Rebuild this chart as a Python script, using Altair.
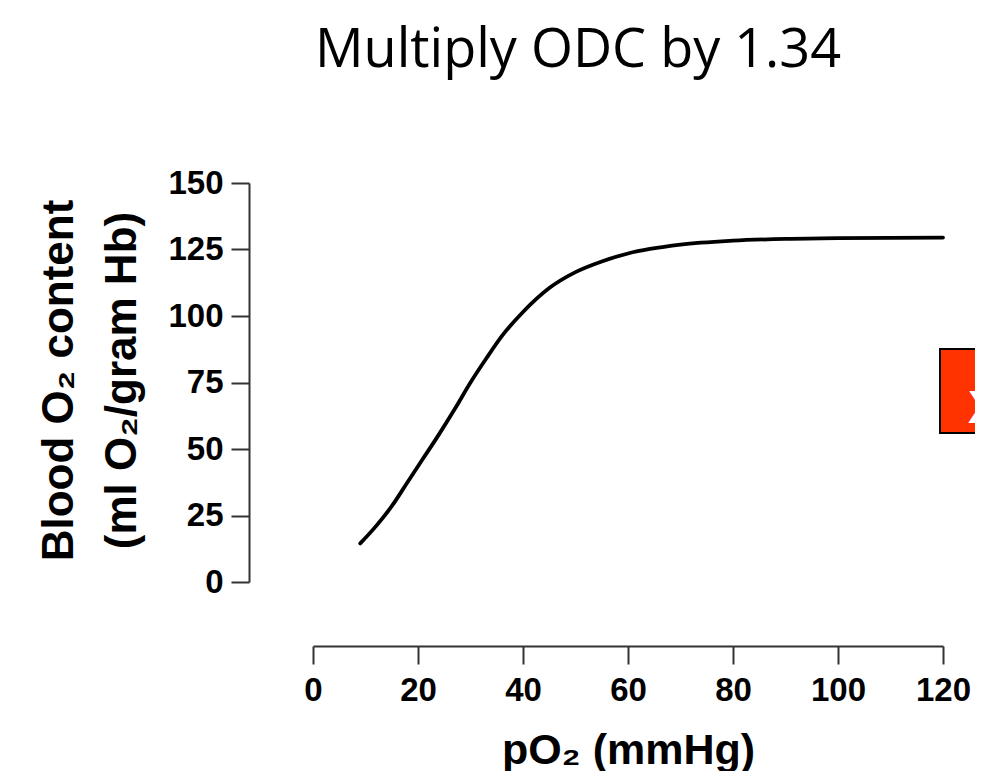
import altair as alt
import pandas as pd

# Oxygen dissociation curve scaled by 1.34
po2 = [9, 12, 15, 18, 21, 24, 27, 30, 33, 36, 40, 45, 50, 55, 60, 70, 80, 90, 100, 120]
content = [14.5, 21.0, 28.5, 37.5, 46.5, 55.5, 65.0, 75.0, 84.0, 92.5, 101.5, 110.5,
           116.5, 120.5, 123.5, 126.8, 128.3, 129.0, 129.3, 129.5]

x_ticks = [0, 20, 40, 60, 80, 100, 120]
y_ticks = [0, 25, 50, 75, 100, 125, 150]

title_text = "Multiply ODC by 1.34"
x_title = "pO\u2082 (mmHg)"
y_title = ["Blood O\u2082  content", "(ml O\u2082/gram Hb)"]

df = pd.DataFrame({"po2": po2, "content": content})

FONT = "Liberation Sans"
W, H = 630, 399

line = alt.Chart(df).mark_line(
    color="black", strokeWidth=3.8, interpolate="monotone", strokeCap="round"
).encode(
    x=alt.X(
        "po2:Q",
        scale=alt.Scale(domain=[0, 120], nice=False, zero=False),
        axis=alt.Axis(
            values=x_ticks, title=x_title, offset=64, grid=False,
            domainColor="#333333", domainWidth=2, tickColor="#333333", tickWidth=2, tickSize=18,
            labelFont=FONT, labelFontSize=33, labelFontWeight="bold", labelColor="black",
            labelPadding=10, labelFlush=False,
            titleFont=FONT, titleFontSize=43, titleFontWeight="bold", titleColor="black",
            titleBaseline="alphabetic", titleY=117, titleX=W / 2,
        ),
    ),
    y=alt.Y(
        "content:Q",
        scale=alt.Scale(domain=[0, 150], nice=False, zero=False),
        axis=alt.Axis(
            values=y_ticks, title=y_title, offset=64, grid=False,
            domainColor="#333333", domainWidth=2, tickColor="#333333", tickWidth=2, tickSize=18,
            labelFont=FONT, labelFontSize=33, labelFontWeight="bold", labelColor="black",
            labelPadding=8, labelFlush=False,
            titleFont=FONT, titleFontSize=44, titleFontWeight="bold", titleColor="black",
            titleAngle=270, titleBaseline="alphabetic", titleAlign="center",
            titleX=-177, titleY=197, titleLineHeight=63,
        ),
    ),
)

box = alt.Chart(pd.DataFrame({"k": [0]})).mark_rect(
    fill="#FF3300", stroke="black", strokeWidth=2
).encode(
    x=alt.value(627), x2=alt.value(700), y=alt.value(166), y2=alt.value(250)
)

box_text = alt.Chart(pd.DataFrame({"t": ["X"]})).mark_text(
    color="white", font=FONT, fontWeight="bold", fontSize=46, align="left", baseline="alphabetic"
).encode(x=alt.value(655), y=alt.value(240), text="t:N")

chart = alt.layer(line, box, box_text).properties(
    width=W,
    height=H,
    title=alt.TitleParams(
        title_text, font="Open Sans", fontSize=54, fontWeight="normal", color="black",
        anchor="middle", dx=-50, offset=89, frame="group",
    ),
    autosize=alt.AutoSizeParams(type="none"),
    padding={"left": 305, "top": 175, "right": 32, "bottom": 189},
).configure_view(stroke=None)

chart.save("out.html", embed_options={"renderer": "svg", "actions": False})
